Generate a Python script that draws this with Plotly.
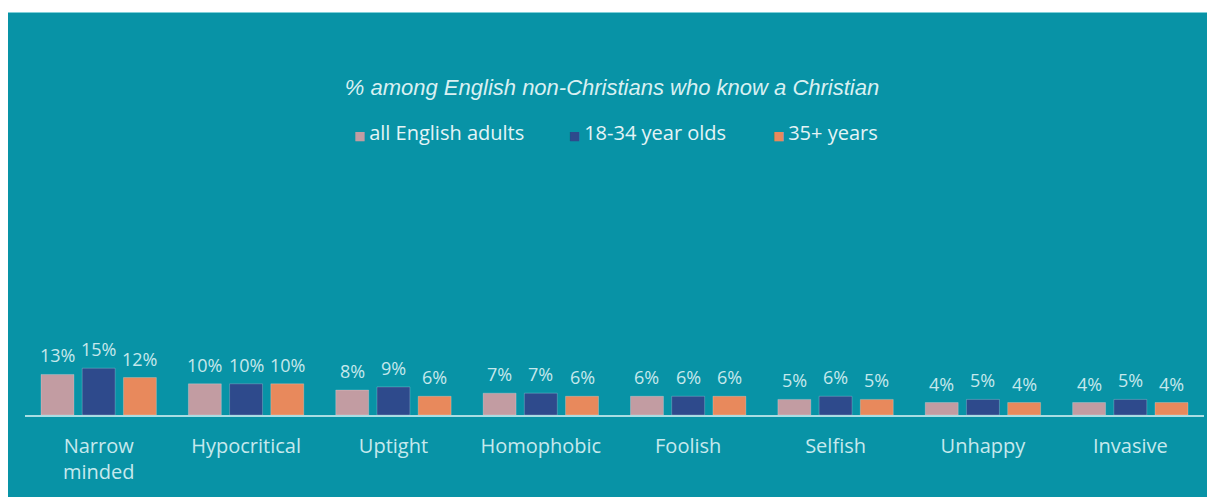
import plotly.graph_objects as go

# ---- data ----
categories = ["Narrow minded", "Hypocritical", "Uptight", "Homophobic",
              "Foolish", "Selfish", "Unhappy", "Invasive"]
tick_labels = ["Narrow<br>minded", "Hypocritical", "Uptight", "Homophobic",
               "Foolish", "Selfish", "Unhappy", "Invasive"]
all_adults = [13, 10, 8, 7, 6, 5, 4, 4]
age_18_34 = [15, 10, 9, 7, 6, 6, 5, 5]
age_35_plus = [12, 10, 6, 6, 6, 5, 4, 4]
series_names = ["all English adults", "18-34 year olds", "35+ years"]
series_values = [all_adults, age_18_34, age_35_plus]
title_text = "% among English non-Christians who know a Christian"

# ---- styling ----
series_colors = ["#c29ca2", "#2e4a8c", "#e8895c"]
TEAL = "#0893a6"
LABEL_COLOR = "#c6e8ec"
TICK_COLOR = "#c6e9ed"
TITLE_COLOR = "#d9f0f2"
LEGEND_COLOR = "#e4f4f6"
FONT = "Open Sans"

W, H = 1207, 497
M_L, M_R, M_T, M_B = 25, 3, 180, 82
PX_PER_PCT = 3.12
plot_w = W - M_L - M_R
plot_h = H - M_T - M_B
BARGAP = 0.161
BARGROUPGAP = 0.2

cat_px = plot_w / len(categories)
slot_px = cat_px * (1 - BARGAP) / len(series_names)


def px_x(x):
    return (x - M_L) / plot_w


def px_y(y):
    return (H - M_B - y) / plot_h


fig = go.Figure()
for name, vals, col in zip(series_names, series_values, series_colors):
    fig.add_trace(go.Bar(
        x=categories, y=vals, name=name,
        marker=dict(color=col, line=dict(color="rgba(255,255,255,0.22)", width=1)),
        showlegend=False,
        hoverinfo="skip",
    ))

annotations = []
# value labels above each bar
for i, vals in enumerate(series_values):
    offset = (i - (len(series_names) - 1) / 2) * slot_px
    for cat, v in zip(categories, vals):
        annotations.append(dict(
            x=cat, y=v, xref="x", yref="y", text=f"{v}%", showarrow=False,
            xshift=offset, yshift=19, yanchor="middle",
            font=dict(family=FONT, size=18, color=LABEL_COLOR),
        ))

# legend row
legend_x_px = [352, 567, 771]
for name, col, lx in zip(series_names, series_colors, legend_x_px):
    annotations.append(dict(
        x=px_x(lx), y=px_y(132), xref="paper", yref="paper",
        xanchor="left", yanchor="middle", showarrow=False,
        text=f"<span style='color:{col};font-size:12px;font-family:DejaVu Sans'>■ </span>{name}",
        font=dict(family=FONT, size=20, color=LEGEND_COLOR),
    ))

shapes = [
    # teal panel behind the chart
    dict(type="rect", xref="paper", yref="paper", layer="below",
         x0=px_x(8), x1=px_x(W + 2), y0=px_y(H + 2), y1=px_y(12),
         fillcolor=TEAL, line=dict(width=0)),
    dict(type="line", xref="paper", yref="paper", layer="below",
         x0=px_x(8), x1=px_x(W + 2), y0=px_y(12.5), y1=px_y(12.5),
         line=dict(color="#7fcfd8", width=1)),
]

fig.update_layout(
    width=W, height=H,
    margin=dict(l=M_L, r=M_R, t=M_T, b=M_B, pad=0),
    paper_bgcolor="white",
    plot_bgcolor="rgba(0,0,0,0)",
    barmode="group",
    bargap=BARGAP,
    bargroupgap=BARGROUPGAP,
    showlegend=False,
    title=dict(
        text=title_text, x=612 / W, xanchor="center", y=1 - 87 / H, yanchor="middle",
        font=dict(family="Liberation Sans", size=22, color=TITLE_COLOR, style="italic"),
    ),
    xaxis=dict(
        tickvals=categories, ticktext=tick_labels,
        showline=True, linecolor="#a9dde3", linewidth=2,
        showgrid=False, zeroline=False, ticks="",
        tickfont=dict(family=FONT, size=20, color=TICK_COLOR),
        ticklabelstandoff=12,
    ),
    yaxis=dict(
        range=[0, plot_h / PX_PER_PCT], visible=False, showgrid=False, zeroline=False,
    ),
    annotations=annotations,
    shapes=shapes,
)

fig.write_html("out.html")
